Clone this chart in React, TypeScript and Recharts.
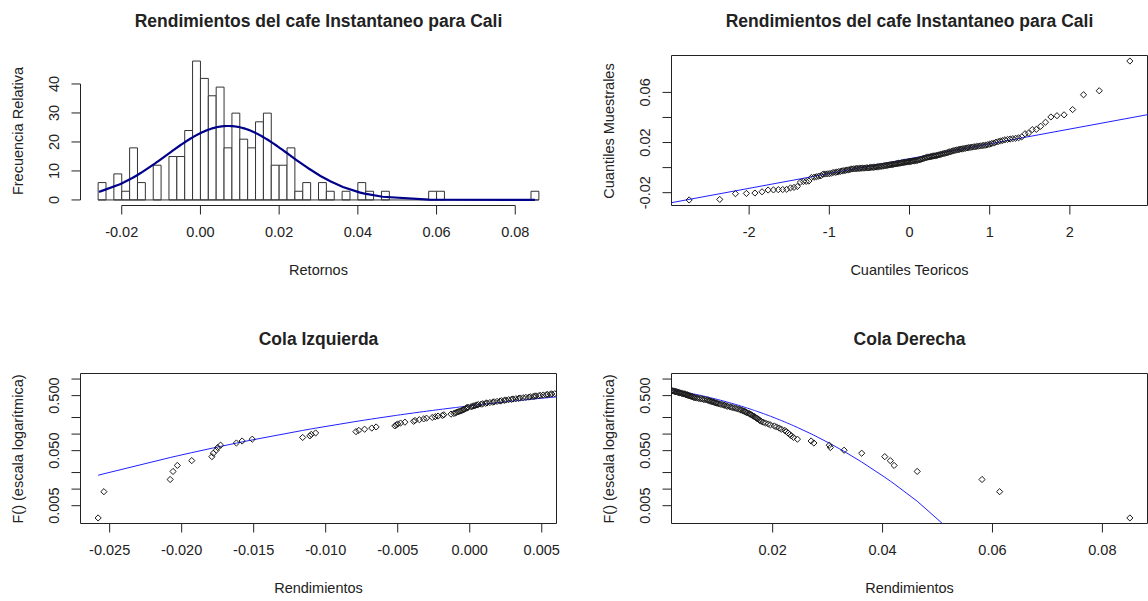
import React from 'react';
import { ComposedChart, XAxis, YAxis, Line, Scatter, ReferenceArea, ReferenceLine } from 'recharts';

// Rendimientos diarios del cafe instantaneo en Cali, ordenados de menor a mayor
const returns = [
  -0.0258, -0.0254,
  -0.0208, -0.0206, -0.0203,
  -0.0193,
  -0.0179, -0.0178, -0.0176, -0.0175, -0.0173, -0.0162,
  -0.0158, -0.0151,
  -0.0116, -0.0111, -0.0110, -0.0107,
  -0.0079, -0.0077, -0.0073, -0.0068, -0.0065,
  -0.0052, -0.0051, -0.0050, -0.0048, -0.0045,
  -0.0039, -0.0038, -0.0035, -0.0032, -0.0030, -0.0026, -0.0024, -0.0022,
  -0.0019, -0.0018, -0.0013, -0.0011, -0.0010, -0.0009, -0.0008, -0.0007,
  -0.0006, -0.0005, -0.0004, -0.0004, -0.0003, -0.0002, -0.0002, -0.0001,
  0.0001, 0.0002, 0.0003, 0.0004, 0.0005, 0.0006, 0.0008, 0.0009, 0.0011, 0.0012, 0.0014, 0.0016, 0.0017, 0.0019,
  0.0021, 0.0022, 0.0024, 0.0025, 0.0027, 0.0029, 0.0030, 0.0032, 0.0034, 0.0035, 0.0037, 0.0039,
  0.0041, 0.0042, 0.0044, 0.0045, 0.0046, 0.0048, 0.0049, 0.0051, 0.0053, 0.0054, 0.0056, 0.0057, 0.0059,
  0.0062, 0.0065, 0.0068, 0.0071, 0.0074, 0.0077,
  0.0081, 0.0083, 0.0085, 0.0087, 0.0089, 0.0091, 0.0093, 0.0095, 0.0097, 0.0099,
  0.0102, 0.0105, 0.0108, 0.0111, 0.0113, 0.0116, 0.0118,
  0.0122, 0.0125, 0.0128, 0.0132, 0.0135, 0.0138,
  0.0141, 0.0143, 0.0146, 0.0148, 0.0150, 0.0152, 0.0154, 0.0157, 0.0159,
  0.0161, 0.0163, 0.0165, 0.0167, 0.0169, 0.0171, 0.0173, 0.0175, 0.0177, 0.0179,
  0.0183, 0.0187, 0.0192, 0.0196,
  0.0203, 0.0207, 0.0212, 0.0216,
  0.0222, 0.0225, 0.0228, 0.0231, 0.0234, 0.0238,
  0.0245,
  0.0270, 0.0275,
  0.0303, 0.0305,
  0.0330,
  0.0362,
  0.0404, 0.0414, 0.0421,
  0.0463,
  0.0581, 0.0613,
  0.0850,
];

// cortes del histograma
const binStart = -0.026;
const binWidth = 0.002;
const binCount = 56;

const histTicksX = [-0.02, 0, 0.02, 0.04, 0.06, 0.08];
const histTicksY = [0, 10, 20, 30, 40];
const qqTicksX = [-2, -1, 0, 1, 2];
const qqTicksY = [-0.02, 0, 0.02, 0.04, 0.06];
const qqLabelsY = [-0.02, 0.02, 0.06];
const leftTicksX = [-0.025, -0.02, -0.015, -0.01, -0.005, 0, 0.005];
const rightTicksX = [0.02, 0.04, 0.06, 0.08];
const logTicks = [0.005, 0.01, 0.02, 0.05, 0.1, 0.2, 0.5, 1];
const logLabels = [0.005, 0.05, 0.5];

const FONT = '"Liberation Sans", Arial, Helvetica, sans-serif';
const INK = '#222';
const FS = 14.5;

// ---- estadisticos ----
const n = returns.length;
const mean = returns.reduce((s, v) => s + v, 0) / n;
const sd = Math.sqrt(returns.reduce((s, v) => s + (v - mean) ** 2, 0) / (n - 1));

function erfc(x: number) {
  const z = Math.abs(x);
  const t = 1 / (1 + 0.5 * z);
  const r = t * Math.exp(-z * z - 1.26551223 + t * (1.00002368 + t * (0.37409196 + t * (0.09678418 +
    t * (-0.18628806 + t * (0.27886807 + t * (-1.13520398 + t * (1.48851587 + t * (-0.82215223 + t * 0.17087277)))))))));
  return x >= 0 ? r : 2 - r;
}
const pnorm = (x: number) => 0.5 * erfc(-(x - mean) / (sd * Math.SQRT2));
const pnormUpper = (x: number) => 0.5 * erfc((x - mean) / (sd * Math.SQRT2));
const dnorm = (x: number) => Math.exp(-0.5 * ((x - mean) / sd) ** 2) / (sd * Math.sqrt(2 * Math.PI));

function qnorm(p: number) {
  const a = [-39.69683028665376, 220.9460984245205, -275.9285104469687, 138.357751867269, -30.66479806614716, 2.506628277459239];
  const b = [-54.47609879822406, 161.5858368580409, -155.6989798598866, 66.80131188771972, -13.28068155288572];
  const c = [-0.007784894002430293, -0.3223964580411365, -2.400758277161838, -2.549732539343734, 4.374664141464968, 2.938163982698783];
  const d = [0.007784695709041462, 0.3224671290700398, 2.445134137142996, 3.754408661907416];
  const plow = 0.02425;
  if (p < plow) {
    const q = Math.sqrt(-2 * Math.log(p));
    return (((((c[0] * q + c[1]) * q + c[2]) * q + c[3]) * q + c[4]) * q + c[5]) / ((((d[0] * q + d[1]) * q + d[2]) * q + d[3]) * q + 1);
  }
  if (p > 1 - plow) return -qnorm(1 - p);
  const q = p - 0.5;
  const r = q * q;
  return (((((a[0] * r + a[1]) * r + a[2]) * r + a[3]) * r + a[4]) * r + a[5]) * q /
    (((((b[0] * r + b[1]) * r + b[2]) * r + b[3]) * r + b[4]) * r + 1);
}

const expand = (lo: number, hi: number): [number, number] => [lo - 0.04 * (hi - lo), hi + 0.04 * (hi - lo)];
const quantile = (p: number) => {
  const h = (n - 1) * p;
  const lo = Math.floor(h);
  return returns[lo] + (h - lo) * (returns[lo + 1] - returns[lo]);
};

// histograma
const counts = Array(binCount).fill(0);
returns.forEach((v) => { counts[Math.min(binCount - 1, Math.floor((v - binStart) / binWidth))] += 1; });
const bins = counts.map((c, k) => ({ lo: binStart + k * binWidth, hi: binStart + (k + 1) * binWidth, d: c / (n * binWidth) }));
const binEnd = binStart + binCount * binWidth;
const maxDensity = Math.max(...bins.map((b) => b.d));
const histX = expand(binStart, binEnd);
const histY = expand(0, maxDensity);
const histCurve = returns.map((x) => ({ x, y: dnorm(x) }));

// qq normal
const qqPoints = returns.map((y, i) => ({ x: qnorm((i + 0.5) / n), y }));
const qqX = expand(qqPoints[0].x, qqPoints[n - 1].x);
const qqY = expand(returns[0], returns[n - 1]);
const q1 = quantile(0.25);
const q3 = quantile(0.75);
const qqSlope = (q3 - q1) / (qnorm(0.75) - qnorm(0.25));
const qqIntercept = q1 - qqSlope * qnorm(0.25);

// colas
const median = quantile(0.5);
const logY = (() => {
  const lo = Math.log10(0.5 / n);
  const span = 0 - lo;
  return [10 ** (lo - 0.04 * span), 10 ** (0.04 * span)] as [number, number];
})();
const leftX = expand(returns[0], median);
const rightX = expand(median, returns[n - 1]);
const leftPoints = returns.map((x, i) => ({ x, y: (i + 0.5) / n })).filter((p) => p.x <= leftX[1]);
const rightPoints = returns.map((x, i) => ({ x, y: (n - i - 0.5) / n })).filter((p) => p.x >= rightX[0]);
const leftCurve = returns.map((x) => ({ x, y: pnorm(x) })).filter((p, i) => i === 0 || returns[i - 1] <= leftX[1]);
const rightCurve = returns.map((x) => ({ x, y: pnormUpper(x) }))
  .filter((p, i) => (i === n - 1 || returns[i + 1] >= rightX[0]) && (i === 0 || pnormUpper(returns[i - 1]) >= logY[0]));

// ---- geometria ----
const PLOT_L = 80.5;
const PLOT_T = 55.5;
const PLOT_W = 476;
const PLOT_H = 150;
const AXIS_W = 60;
const AXIS_H = 40;
const LABEL_GAP = 26.5;

type Frame = { left: number; top: number; width: number; height: number };
const frames: Frame[] = [
  { left: 0, top: 0, width: 591, height: 318 },
  { left: 591, top: 0, width: 557, height: 318 },
  { left: 0, top: 318, width: 591, height: 283 },
  { left: 591, top: 318, width: 557, height: 283 },
];
const margins = (f: Frame) => ({
  left: PLOT_L - AXIS_W,
  top: PLOT_T,
  right: f.width - PLOT_L - PLOT_W,
  bottom: f.height - PLOT_T - PLOT_H - AXIS_H,
});

const xTick = (fmt: (v: number) => string) => (props: any) => {
  const s = fmt(props.payload.value);
  return (
    <text x={props.x} y={PLOT_T + PLOT_H + LABEL_GAP} dy="0.36em" textAnchor="middle" fontSize={FS} fontFamily={FONT} fill={INK}>
      {s}
    </text>
  );
};
const yTick = (fmt: (v: number) => string) => (props: any) => {
  const s = fmt(props.payload.value);
  const x = PLOT_L - LABEL_GAP;
  return (
    <text x={x} y={props.y} dy="0.36em" textAnchor="middle" fontSize={FS} fontFamily={FONT} fill={INK} transform={`rotate(-90 ${x} ${props.y})`}>
      {s}
    </text>
  );
};
const only = (list: number[], fmt: (v: number) => string) => (v: number) =>
  list.some((t) => Math.abs(t - v) < 1e-9) ? fmt(v) : '';

const Diamond = (props: any) => {
  const { cx, cy } = props;
  if (cx == null || cy == null) return <g />;
  const r = 3.1;
  return <path d={`M${cx} ${cy - r}L${cx + r} ${cy}L${cx} ${cy + r}L${cx - r} ${cy}Z`} fill="none" stroke="#1a1a1a" strokeWidth={1} />;
};

const Box = ({ x, y }: { x: [number, number]; y: [number, number] }) => null;

function Txt({ x, y, size = FS, bold = false, rotate = false, children }: any) {
  return (
    <div
      style={{
        position: 'absolute', left: x, top: y, lineHeight: 1, whiteSpace: 'nowrap', color: INK,
        fontSize: size, fontWeight: bold ? 700 : 400,
        transform: `translate(-50%, -50%)${rotate ? ' rotate(-90deg)' : ''}`,
      }}
    >
      {children}
    </div>
  );
}

function Place({ f, children }: { f: Frame; children: React.ReactNode }) {
  return <div style={{ position: 'absolute', left: f.left, top: f.top, width: f.width, height: f.height }}>{children}</div>;
}

const axisProps = { type: 'number' as const, allowDataOverflow: true, interval: 0, tickSize: 9, axisLine: false, stroke: INK };

function Histogram() {
  const f = frames[0];
  return (
    <Place f={f}>
      <ComposedChart width={f.width} height={f.height} margin={margins(f)}>
        <XAxis {...axisProps} dataKey="x" domain={histX} ticks={histTicksX} height={AXIS_H} tick={xTick((v) => v.toFixed(2))} />
        <YAxis {...axisProps} dataKey="y" domain={histY} ticks={histTicksY} width={AXIS_W} tick={yTick((v) => String(v))} />
        {bins.filter((b) => b.d > 0).map((b, i) => (
          <ReferenceArea key={i} x1={b.lo} x2={b.hi} y1={0} y2={b.d} fill="#fff" fillOpacity={1} stroke="#333" strokeWidth={1} ifOverflow="visible" />
        ))}
        <ReferenceLine segment={[{ x: binStart, y: 0 }, { x: binEnd, y: 0 }]} stroke="#333" ifOverflow="visible" />
        <ReferenceLine segment={[{ x: histTicksX[0], y: histY[0] }, { x: histTicksX[histTicksX.length - 1], y: histY[0] }]} stroke={INK} ifOverflow="visible" />
        <ReferenceLine segment={[{ x: histX[0], y: histTicksY[0] }, { x: histX[0], y: histTicksY[histTicksY.length - 1] }]} stroke={INK} ifOverflow="visible" />
        <Line data={histCurve} dataKey="y" stroke="#00008B" strokeWidth={2.2} dot={false} isAnimationActive={false} />
      </ComposedChart>
    </Place>
  );
}

function QQPlot() {
  const f = frames[1];
  return (
    <Place f={f}>
      <ComposedChart width={f.width} height={f.height} margin={margins(f)}>
        <XAxis {...axisProps} dataKey="x" domain={qqX} ticks={qqTicksX} height={AXIS_H} tick={xTick((v) => String(v))} />
        <YAxis {...axisProps} dataKey="y" domain={qqY} ticks={qqTicksY} width={AXIS_W} tick={yTick(only(qqLabelsY, (v) => v.toFixed(2)))} />
        <ReferenceArea x1={qqX[0]} x2={qqX[1]} y1={qqY[0]} y2={qqY[1]} fill="none" stroke={INK} ifOverflow="visible" />
        <Scatter data={qqPoints} dataKey="y" shape={Diamond} isAnimationActive={false} />
        <ReferenceLine
          segment={[{ x: qqX[0], y: qqIntercept + qqSlope * qqX[0] }, { x: qqX[1], y: qqIntercept + qqSlope * qqX[1] }]}
          stroke="#2020ff" strokeWidth={1} ifOverflow="visible"
        />
      </ComposedChart>
    </Place>
  );
}

function TailPlot({ f, domX, ticksX, fmtX, points, curve }: any) {
  return (
    <Place f={f}>
      <ComposedChart width={f.width} height={f.height} margin={margins(f)}>
        <XAxis {...axisProps} dataKey="x" domain={domX} ticks={ticksX} height={AXIS_H} tick={xTick(fmtX)} />
        <YAxis {...axisProps} dataKey="y" scale="log" domain={logY} ticks={logTicks} width={AXIS_W} tick={yTick(only(logLabels, (v) => v.toFixed(3)))} />
        <ReferenceArea x1={domX[0]} x2={domX[1]} y1={logY[0]} y2={logY[1]} fill="none" stroke={INK} ifOverflow="visible" />
        <Scatter data={points} dataKey="y" shape={Diamond} isAnimationActive={false} />
        <Line data={curve} dataKey="y" stroke="#2020ff" strokeWidth={1} dot={false} isAnimationActive={false} />
      </ComposedChart>
    </Place>
  );
}

export default function App() {
  const cx1 = PLOT_L + PLOT_W / 2;
  const cx2 = frames[1].left + cx1;
  const yMid1 = PLOT_T + PLOT_H / 2;
  const yMid2 = frames[2].top + yMid1;
  return (
    <div style={{ position: 'absolute', left: 0, top: 0, width: 1148, height: 601, background: '#fff', overflow: 'hidden', fontFamily: FONT }}>
      <Histogram />
      <QQPlot />
      <TailPlot f={frames[2]} domX={leftX} ticksX={leftTicksX} fmtX={(v: number) => v.toFixed(3)} points={leftPoints} curve={leftCurve} />
      <TailPlot f={frames[3]} domX={rightX} ticksX={rightTicksX} fmtX={(v: number) => v.toFixed(2)} points={rightPoints} curve={rightCurve} />

      <Txt x={cx1} y={22} size={17.5} bold>Rendimientos del cafe Instantaneo para Cali</Txt>
      <Txt x={cx2} y={22} size={17.5} bold>Rendimientos del cafe Instantaneo para Cali</Txt>
      <Txt x={cx1} y={340} size={17.5} bold>Cola Izquierda</Txt>
      <Txt x={cx2} y={340} size={17.5} bold>Cola Derecha</Txt>

      <Txt x={cx1} y={270}>Retornos</Txt>
      <Txt x={cx2} y={270}>Cuantiles Teoricos</Txt>
      <Txt x={cx1} y={588}>Rendimientos</Txt>
      <Txt x={cx2} y={588}>Rendimientos</Txt>

      <Txt x={18} y={yMid1} rotate>Frecuencia Relativa</Txt>
      <Txt x={frames[1].left + 18} y={yMid1} rotate>Cuantiles Muestrales</Txt>
      <Txt x={18} y={yMid2} rotate>F() (escala logarítmica)</Txt>
      <Txt x={frames[1].left + 18} y={yMid2} rotate>F() (escala logarítmica)</Txt>
    </div>
  );
}
